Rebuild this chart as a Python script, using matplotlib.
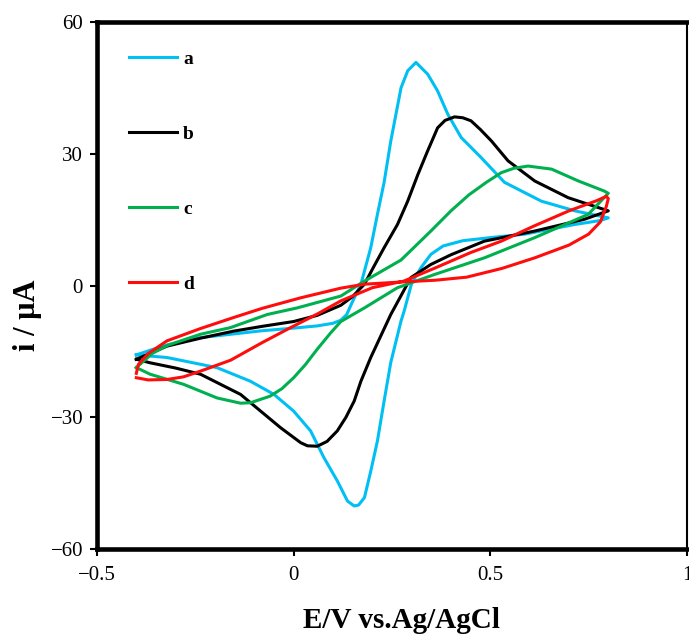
import numpy as np
import matplotlib
matplotlib.use("Agg")
import matplotlib.pyplot as plt

plt.rcParams['font.family'] = ['Liberation Serif', 'DejaVu Serif']

# curve a (cyan): forward then reverse scan
a_E = [-0.40, -0.36, -0.32, -0.24, -0.16, -0.08, 0.00, 0.06, 0.10, 0.12, 0.135, 0.15, 0.171,
       0.196, 0.213, 0.23, 0.247, 0.273, 0.29, 0.311, 0.341, 0.366, 0.392, 0.426, 0.477,
       0.536, 0.63, 0.715, 0.80,
       0.78, 0.715, 0.588, 0.50, 0.43, 0.38, 0.349, 0.324, 0.30, 0.281, 0.273, 0.247, 0.23,
       0.213, 0.196, 0.18, 0.165, 0.154, 0.137, 0.111, 0.077, 0.043, 0.0, -0.05, -0.11,
       -0.195, -0.322, -0.40]
a_i = [-15.8, -14.6, -13.5, -11.9, -11.1, -10.3, -9.7, -9.2, -8.6, -7.9, -6.6, -3.6, 0.3,
       8.6, 16.2, 23.5, 32.9, 45.0, 48.9, 50.8, 48.1, 44.3, 39.0, 33.7, 29.1,
       23.5, 19.2, 17.0, 15.4,
       14.8, 13.9, 11.7, 10.9, 10.2, 9.0, 7.1, 4.1, 0.5, -5.8, -8.1, -17.5, -26.3,
       -35.4, -42.3, -48.3, -50.0, -50.2, -49.1, -44.5, -39.2, -33.1, -28.6, -24.8, -21.8,
       -18.7, -16.4, -15.8]

# curve b (black)
b_E = [-0.40, -0.322, -0.237, -0.153, -0.08, 0.0, 0.06, 0.12, 0.15, 0.18, 0.205, 0.23,
       0.264, 0.29, 0.316, 0.34, 0.366, 0.385, 0.409, 0.43, 0.451, 0.475, 0.503, 0.545,
       0.613, 0.698, 0.80,
       0.74, 0.613, 0.485, 0.40, 0.349, 0.298, 0.247, 0.196, 0.171, 0.154, 0.133, 0.111,
       0.085, 0.06, 0.035, 0.018, -0.033, -0.084, -0.135, -0.237, -0.30, -0.365, -0.40]
b_i = [-16.8, -13.8, -12.0, -10.4, -9.3, -8.2, -6.8, -4.5, -2.5, 0.3, 4.5, 8.6,
       13.9, 19.2, 25.3, 30.5, 35.9, 37.6, 38.4, 38.2, 37.5, 35.5, 32.9, 28.4,
       23.8, 20.0, 17.0,
       15.1, 12.4, 10.1, 7.0, 4.8, 1.8, -6.6, -16.4, -21.8, -26.3, -30.0, -33.1,
       -35.5, -36.6, -36.5, -35.8, -32.4, -28.6, -24.8, -20.2, -18.8, -17.6, -16.8]

# curve c (green)
c_E = [-0.40, -0.36, -0.32, -0.237, -0.161, -0.067, 0.009, 0.12, 0.18, 0.273, 0.35, 0.40,
       0.445, 0.49, 0.528, 0.56, 0.596, 0.656, 0.724, 0.79, 0.80,
       0.749, 0.613, 0.485, 0.358, 0.264, 0.18, 0.12, 0.094, 0.06, 0.03, 0.0, -0.03, -0.06,
       -0.11, -0.135, -0.195, -0.28, -0.365, -0.40]
c_i = [-18.7, -15.5, -13.6, -11.1, -9.6, -6.6, -5.1, -2.4, 1.0, 5.8, 12.5, 17.0,
       20.6, 23.5, 25.7, 26.7, 27.2, 26.5, 23.8, 21.5, 21.0,
       16.2, 10.9, 6.3, 2.5, -0.5, -5.1, -8.2, -10.8, -14.5, -18.0, -21.0, -23.5, -25.2,
       -26.7, -26.8, -25.6, -22.5, -20.2, -18.7]

# curve d (red)
d_E = [-0.40, -0.37, -0.322, -0.28, -0.237, -0.16, -0.08, -0.008, 0.06, 0.12, 0.20, 0.28,
       0.36, 0.45, 0.528, 0.61, 0.70, 0.77, 0.795, 0.80,
       0.795, 0.78, 0.75, 0.70, 0.613, 0.53, 0.44, 0.36, 0.273, 0.18, 0.12, 0.018, -0.08,
       -0.153, -0.237, -0.322, -0.37, -0.395, -0.40]
d_i = [-21.0, -21.5, -21.4, -20.8, -19.5, -17.0, -13.0, -9.6, -6.5, -3.5, -0.5, 1.0,
       4.0, 7.5, 10.1, 13.5, 17.0, 19.3, 20.3, 19.8,
       18.0, 14.5, 11.7, 9.2, 6.3, 3.9, 1.9, 1.2, 0.8, 0.3, -0.6, -2.8, -5.2,
       -7.3, -9.8, -12.6, -15.5, -18.0, -20.0]

labels = ['a', 'b', 'c', 'd']
colors = ['#00BFF3', '#000000', '#00B04F', '#FF0D0D']

fig = plt.figure(figsize=(6.89, 6.40), dpi=100)
ax = fig.add_axes([0.1408, 0.1422, 0.997 - 0.1408, 0.9656 - 0.1422])

for E, cur, lab, col in zip([a_E, b_E, c_E, d_E], [a_i, b_i, c_i, d_i], labels, colors):
    ax.plot(E, cur, color=col, lw=2.2, label=lab, solid_joinstyle='round')

ax.set_xlim(-0.5, 1.0)
ax.set_ylim(-60, 60)
ax.set_xticks([-0.5, 0, 0.5, 1])
ax.set_xticklabels(['\u22120.5', '0', '0.5', '1'])
ax.set_yticks([-60, -30, 0, 30, 60])
ax.tick_params(axis='both', direction='out', length=5, width=1.5, labelsize=15)
ax.tick_params(axis='y', pad=5)
ax.tick_params(axis='x', pad=7)

for side in ['left', 'bottom', 'top']:
    ax.spines[side].set_linewidth(3.3)
ax.spines['right'].set_linewidth(1.5)

ax.set_xlabel('E/V vs.Ag/AgCl', fontsize=21, fontweight='bold')
ax.set_ylabel('i / \u03bcA', fontsize=22, fontweight='bold')
ax.xaxis.set_label_coords(0.516, -0.11)
ax.yaxis.set_label_coords(-0.093, 0.444)

ax.legend(loc='upper left', bbox_to_anchor=(0.037, 0.965), frameon=False,
          prop={'weight': 'bold', 'size': 14}, handlelength=2.5,
          handletextpad=0.3, labelspacing=2.95, borderpad=0)

fig.savefig('out.png', dpi=100)
